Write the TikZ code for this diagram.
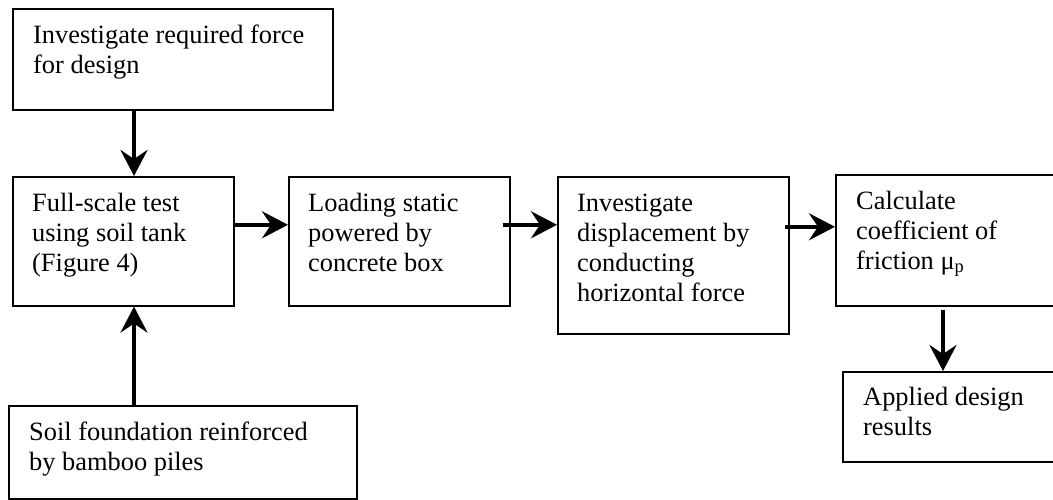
\documentclass[tikz,border=0pt]{standalone}
\usepackage{fontspec}
\setmainfont{Liberation Serif}
\usetikzlibrary{arrows.meta}
\begin{document}
\begin{tikzpicture}[x=1pt,y=-1pt,
  box/.style={draw=black,line width=1.6pt,rectangle,inner sep=0pt,anchor=north west},
  txt/.style={inner sep=0pt,anchor=north west,align=left,font=\fontsize{26.4}{30}\selectfont},
  arr/.style={line width=3.6pt,-{Stealth[length=26pt,width=27pt,inset=9pt]}}]
\useasboundingbox (0,0) rectangle (1053,500);
\clip (0,0) rectangle (1053,500);
% boxes
\node[box,minimum width=320pt,minimum height=101pt] (A) at (12,8) {};
\node[box,minimum width=221pt,minimum height=129pt] (B) at (12,176) {};
\node[box,minimum width=221pt,minimum height=129pt] (C) at (288,176) {};
\node[box,minimum width=231pt,minimum height=157pt] (D) at (557,176) {};
\node[box,minimum width=240pt,minimum height=131pt] (E) at (835,174) {};
\node[box,minimum width=240pt,minimum height=90pt] (F) at (842,371) {};
\node[box,minimum width=348pt,minimum height=93pt] (G) at (8,405) {};
% texts (top = first baseline - 0.7*30)
\node[txt] (At) at (33,22) {\strut Investigate required force\\for design};
\node[txt] (Bt) at (32,190) {\strut Full-scale test\\using soil tank\\(Figure 4)};
\node[txt] (Ct) at (308,190) {\strut Loading static\\powered by\\concrete box};
\node[txt] (Dt) at (577,190) {\strut Investigate\\displacement by\\conducting\\horizontal force};
\node[txt] (Et) at (856,188) {\strut Calculate\\coefficient of\\friction μ\textsubscript{p}};
\node[txt] (Ft) at (863,384) {\strut Applied design\\results};
\node[txt] (Gt) at (29,419) {\strut Soil foundation reinforced\\by bamboo piles};
% arrows
\draw[arr] ([xshift=122pt]A.south west) -- ([xshift=122pt]B.north west);
\draw[arr] ([xshift=126pt]G.north west) -- ([xshift=122pt]B.south west);
\draw[arr] ([yshift=16.5pt]B.east) -- ([yshift=16.5pt]C.west);
\draw[arr] ([xshift=-8pt,yshift=16.5pt]C.east) -- ([yshift=30.5pt]D.west);
\draw[arr] ([xshift=-5pt,yshift=28.5pt]D.east) -- ([yshift=13.5pt]E.west);
\draw[arr] ([xshift=108pt,yshift=-3pt]E.south west) -- ([xshift=101pt]F.north west);
\end{tikzpicture}
\end{document}
